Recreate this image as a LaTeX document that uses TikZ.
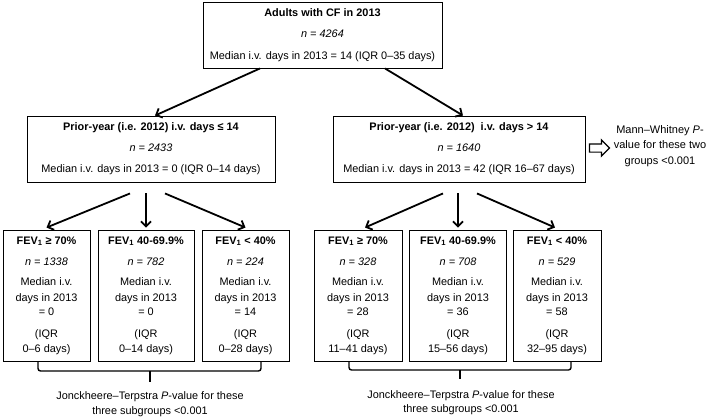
\documentclass[tikz,border=0pt]{standalone}
\usepackage{fontspec}
\setmainfont{Liberation Sans}
\usepackage{tikz}
\usetikzlibrary{positioning, arrows.meta, shapes.arrows}
\tikzset{
	line width = .8pt,
	>={Straight Barb[length=5pt,width=10pt]},
	font = \fontsize{10.9}{14.5}\selectfont,
	box/.style={
		draw,
		rectangle,
		align=center,
		inner sep=0pt,
		line width=.9pt
	},
	edge/.style={
		->,
		line width=1.8pt
	},
	brace/.style={
		line width=1.4pt,
		rounded corners=2.5pt
	},
	note/.style={
		align=center,
		inner sep=0pt
	}
}

\begin{document}
\begin{tikzpicture}[x=1pt, y=-1pt]
\useasboundingbox (0,0) rectangle (709,420);
% ---
% whole cohort
% ---
\node[box, minimum width=239pt, minimum height=66pt] at (322.5,35) (top)
	{\textbf{Adults with CF in 2013}\\[7pt]
	 \textit{n = 4264}\\[7pt]
	 Median i.v. days in 2013 = 14 (IQR 0–35 days)};

% ---
% split by prior-year days
% ---
\node[box, minimum width=248pt, minimum height=66pt] at (151,149) (mid-0)
	{\textbf{Prior-year (i.e. 2012) i.v. days ≤ 14}\\[6.5pt]
	 \textit{n = 2433}\\[6.5pt]
	 Median i.v. days in 2013 = 0 (IQR 0–14 days)};
\node[box, minimum width=252pt, minimum height=66pt] at (459,149) (mid-1)
	{\textbf{Prior-year (i.e. 2012)\ \ i.v. days > 14}\\[6.5pt]
	 \textit{n = 1640}\\[6.5pt]
	 Median i.v. days in 2013 = 42 (IQR 16–67 days)};

\draw[edge] ([xshift=-62.5pt]top.south) to ([xshift=4pt]mid-0.north);
\draw[edge] ([xshift=62.5pt]top.south) to ([xshift=4pt]mid-1.north);

% Mann-Whitney note
\node[single arrow, draw, line width=1.2pt, inner sep=3.5pt, single arrow head extend=4pt,
	minimum height=20pt] at (597.5,148) (mw-arrow) {};
\node[note, font=\fontsize{11}{15.5}\selectfont] at (660,146) (mw)
	{Mann–Whitney \textit{P}-\\value for these two\\groups <0.001};

% ---
% FEV1 subgroups
% ---
\foreach \g/\x/\w/\head/\n/\med/\iqr in {
	s00/46.5/87/{FEV\textsubscript{1} ≥ 70\%}/1338/0/0–6,
	s01/146/96/{FEV\textsubscript{1} 40-69.9\%}/782/0/0–14,
	s02/245.5/87/{FEV\textsubscript{1} < 40\%}/224/14/0–28,
	s10/358/88/{FEV\textsubscript{1} ≥ 70\%}/328/28/11–41,
	s11/458/97/{FEV\textsubscript{1} 40-69.9\%}/708/36/15–56,
	s12/557/88/{FEV\textsubscript{1} < 40\%}/529/58/32–95}
	\node[box, minimum width=\w pt, minimum height=131pt] at (\x,295.5) (\g)
		{\textbf{\head}\\[6.5pt]
		 \textit{n = \n}\\[5.5pt]
		 Median i.v.\\[1.5pt]
		 days in 2013\\
		 = \med\\[7.5pt]
		 (IQR\\
		 \iqr\ days)};

\draw[edge] ([xshift=-21pt, yshift=-11pt]mid-0.south) to ([yshift=2pt]s00.north);
\draw[edge] ([yshift=-11pt]mid-0.south -| s01.north) to ([yshift=2pt]s01.north);
\draw[edge] ([xshift=14pt, yshift=-11pt]mid-0.south) to ([yshift=2pt]s02.north);

\draw[edge] ([xshift=-16pt, yshift=-11pt]mid-1.south) to ([xshift=7pt, yshift=2pt]s10.north);
\draw[edge] ([yshift=-11pt]mid-1.south -| s11.north) to ([yshift=2pt]s11.north);
\draw[edge] ([xshift=18pt, yshift=-11pt]mid-1.south) to ([xshift=-2pt, yshift=2pt]s12.north);

% ---
% Jonckheere-Terpstra brackets
% ---
\coordinate (br-0) at (150,371);
\coordinate (br-1) at (460,370);
\draw[brace] ([xshift=-8.5pt]s00.south) |- (br-0) -| ([xshift=15.5pt]s02.south);
\draw[brace] (br-0) -- ++(0,11);
\draw[brace] ([xshift=-9pt]s10.south) |- (br-1) -| ([xshift=14pt]s12.south);
\draw[brace] (br-1) -- ++(0,9);

\node[note] at (150,404) (jt-0)
	{Jonckheere–Terpstra \textit{P}-value for these\\three subgroups <0.001};
\node[note] at (461,402.5) (jt-1)
	{Jonckheere–Terpstra \textit{P}-value for these\\three subgroups <0.001};
\end{tikzpicture}
\end{document}
